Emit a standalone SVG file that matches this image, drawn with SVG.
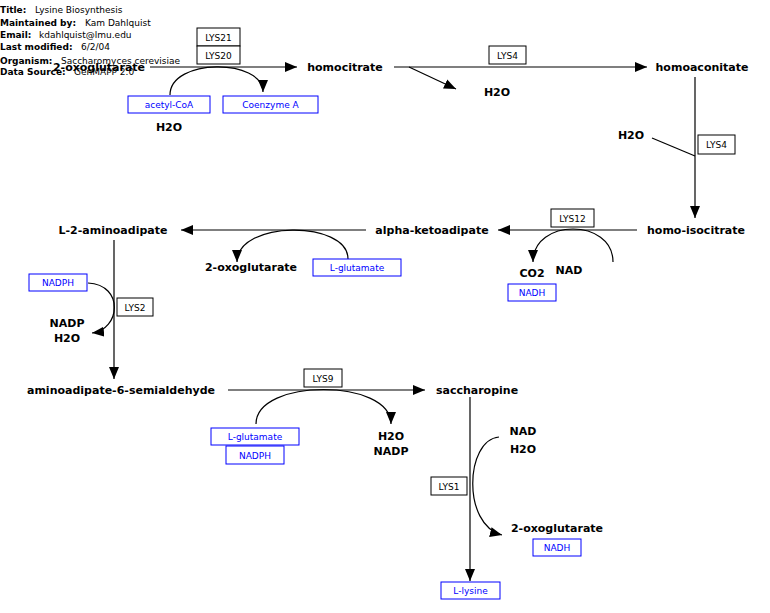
<svg xmlns="http://www.w3.org/2000/svg" width="770" height="613" viewBox="0 0 770 613">
<style>
.hl{font-family:"DejaVu Sans",sans-serif;font-size:9px;font-weight:bold;fill:#000}
.hv{font-family:"DejaVu Sans",sans-serif;font-size:9px;fill:#000}
.m{font-family:"DejaVu Sans",sans-serif;font-size:11px;font-weight:bold;fill:#000;text-anchor:middle}
.g{fill:#fff;stroke:#000;stroke-width:1}
.gt{font-family:"DejaVu Sans",sans-serif;font-size:9px;fill:#000;text-anchor:middle}
.b{fill:#fff;stroke:#00f;stroke-width:1}
.bt{font-family:"DejaVu Sans",sans-serif;font-size:9px;fill:#00f;text-anchor:middle}
.c{fill:none;stroke:#000;stroke-width:1.2}
</style>
<defs>
<marker id="a" markerUnits="userSpaceOnUse" markerWidth="12" markerHeight="10" refX="12" refY="5" orient="auto" viewBox="0 0 12 10"><path d="M0,0 L12,5 L0,10 z" fill="#000"/></marker>
</defs>
<rect width="770" height="613" fill="#fff"/>
<g id="header">
<text x="0" y="13"><tspan class="hl">Title:</tspan><tspan class="hv" x="35">Lysine Biosynthesis</tspan></text>
<text x="0" y="26"><tspan class="hl">Maintained by:</tspan><tspan class="hv" x="85">Kam Dahlquist</tspan></text>
<text x="0" y="38"><tspan class="hl">Email:</tspan><tspan class="hv" x="39">kdahlquist@lmu.edu</tspan></text>
<text x="0" y="50"><tspan class="hl">Last modified:</tspan><tspan class="hv" x="81">6/2/04</tspan></text>
<text x="0" y="64"><tspan class="hl">Organism:</tspan><tspan class="hv" x="61">Saccharomyces cerevisiae</tspan></text>
<text x="0" y="75"><tspan class="hl">Data Source:</tspan><tspan class="hv" x="74">GenMAPP 2.0</tspan></text>
</g>
<g id="connectors">
<path class="c" d="M150,67 H297" marker-end="url(#a)"/>
<path class="c" d="M170,95 C170,58 263,58 263,92" marker-end="url(#a)"/>
<path class="c" d="M394,67 H647" marker-end="url(#a)"/>
<path class="c" d="M409,67 L456,89" marker-end="url(#a)"/>
<path class="c" d="M695,77 V218" marker-end="url(#a)"/>
<path class="c" d="M652,138 L695,156"/>
<path class="c" d="M637,230 H498" marker-end="url(#a)"/>
<path class="c" d="M613,262 C613,218 533,218 533,262" marker-end="url(#a)"/>
<path class="c" d="M366,230 H181" marker-end="url(#a)"/>
<path class="c" d="M348,259 C348,220 237,220 237,262" marker-end="url(#a)"/>
<path class="c" d="M114,240 V379" marker-end="url(#a)"/>
<path class="c" d="M88,283 C125,285 120,330 92,333" marker-end="url(#a)"/>
<path class="c" d="M228,390 H425" marker-end="url(#a)"/>
<path class="c" d="M256,424 C256,378 391,378 391,424" marker-end="url(#a)"/>
<path class="c" d="M470,397 V581" marker-end="url(#a)"/>
<path class="c" d="M499,437 C465,440 462,525 502,535" marker-end="url(#a)"/>
</g>
<g id="oxoglutarate1"><text class="m" x="99" y="71">2-oxoglutarate</text></g>
<g id="LYS21"><rect class="g" x="197" y="28" width="43" height="18"/><text class="gt" x="218.5" y="40.5">LYS21</text></g>
<g id="LYS20"><rect class="g" x="197" y="46" width="43" height="18"/><text class="gt" x="218.5" y="58.5">LYS20</text></g>
<g id="acetylCoA"><rect class="b" x="128" y="96" width="82" height="17"/><text class="bt" x="169" y="108">acetyl-CoA</text></g>
<g id="coenzymeA"><rect class="b" x="223" y="96" width="95" height="17"/><text class="bt" x="270.5" y="108">Coenzyme A</text></g>
<g id="h2o1"><text class="m" x="169" y="131">H2O</text></g>
<g id="homocitrate"><text class="m" x="345" y="71">homocitrate</text></g>
<g id="LYS4a"><rect class="g" x="489" y="46" width="37" height="18"/><text class="gt" x="507.5" y="58.5">LYS4</text></g>
<g id="h2o2"><text class="m" x="497" y="96">H2O</text></g>
<g id="homoaconitate"><text class="m" x="702" y="71">homoaconitate</text></g>
<g id="h2o3"><text class="m" x="631" y="139">H2O</text></g>
<g id="LYS4b"><rect class="g" x="698" y="135" width="37" height="19"/><text class="gt" x="716.5" y="148">LYS4</text></g>
<g id="homoisocitrate"><text class="m" x="696" y="234">homo-isocitrate</text></g>
<g id="LYS12"><rect class="g" x="551" y="209" width="43" height="18"/><text class="gt" x="572.5" y="221.5">LYS12</text></g>
<g id="co2"><text class="m" x="532" y="277">CO2</text></g>
<g id="nad1"><text class="m" x="569" y="274">NAD</text></g>
<g id="nadh1"><rect class="b" x="508" y="284" width="48" height="17"/><text class="bt" x="532" y="296">NADH</text></g>
<g id="alphaketoadipate"><text class="m" x="432" y="234">alpha-ketoadipate</text></g>
<g id="oxoglutarate2"><text class="m" x="251" y="271">2-oxoglutarate</text></g>
<g id="lglutamate1"><rect class="b" x="313" y="259" width="88" height="17"/><text class="bt" x="357" y="271">L-glutamate</text></g>
<g id="L2aminoadipate"><text class="m" x="113" y="234">L-2-aminoadipate</text></g>
<g id="nadph1"><rect class="b" x="29" y="274" width="58" height="17"/><text class="bt" x="58" y="286">NADPH</text></g>
<g id="LYS2"><rect class="g" x="117" y="298" width="36" height="18"/><text class="gt" x="135" y="310.5">LYS2</text></g>
<g id="nadp1"><text class="m" x="67" y="327">NADP</text></g>
<g id="h2o4"><text class="m" x="67" y="342">H2O</text></g>
<g id="semialdehyde"><text class="m" x="121" y="394">aminoadipate-6-semialdehyde</text></g>
<g id="LYS9"><rect class="g" x="304" y="369" width="38" height="18"/><text class="gt" x="323" y="381.5">LYS9</text></g>
<g id="lglutamate2"><rect class="b" x="211" y="428" width="88" height="17"/><text class="bt" x="255" y="440">L-glutamate</text></g>
<g id="nadph2"><rect class="b" x="226" y="446" width="58" height="18"/><text class="bt" x="255" y="458.5">NADPH</text></g>
<g id="h2o5"><text class="m" x="391" y="440">H2O</text></g>
<g id="nadp2"><text class="m" x="391" y="455">NADP</text></g>
<g id="saccharopine"><text class="m" x="477" y="394">saccharopine</text></g>
<g id="LYS1"><rect class="g" x="431" y="477" width="36" height="18"/><text class="gt" x="449" y="489.5">LYS1</text></g>
<g id="nad2"><text class="m" x="523" y="435">NAD</text></g>
<g id="h2o6"><text class="m" x="523" y="453">H2O</text></g>
<g id="oxoglutarate3"><text class="m" x="557" y="532">2-oxoglutarate</text></g>
<g id="nadh2"><rect class="b" x="533" y="539" width="48" height="17"/><text class="bt" x="557" y="551">NADH</text></g>
<g id="llysine"><rect class="b" x="441" y="582" width="59" height="17"/><text class="bt" x="470.5" y="594">L-lysine</text></g>
</svg>
